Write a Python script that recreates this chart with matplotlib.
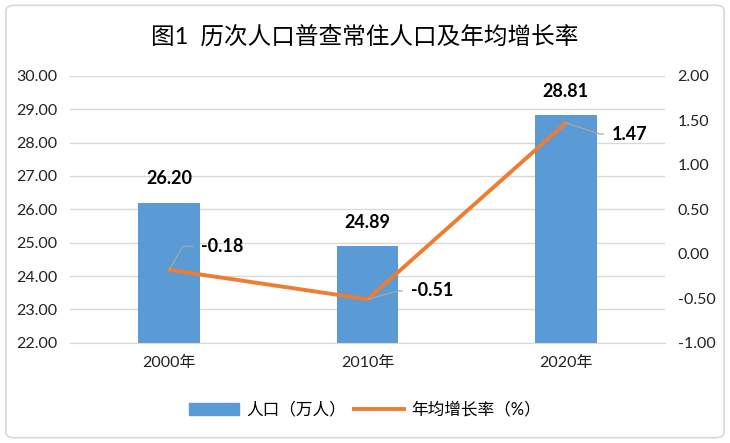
import matplotlib
matplotlib.use("Agg")
import matplotlib.pyplot as plt
from matplotlib.patches import FancyBboxPatch
from matplotlib.lines import Line2D
from matplotlib.patches import Patch

plt.rcParams["font.family"] = ["Lato", "Noto Sans CJK SC", "DejaVu Sans"]

years = ["2000年", "2010年", "2020年"]
population = [26.20, 24.89, 28.81]
growth = [-0.18, -0.51, 1.47]

BAR_C = "#5B9BD5"
LINE_C = "#ED7D31"
GRID_C = "#D9D9D9"
LEAD_C = "#A6A6A6"

fig = plt.figure(figsize=(7.3, 4.43), dpi=100)
ax = fig.add_axes([0.096, 0.226, 0.815, 0.603])
ax2 = ax.twinx()

x = range(len(years))
ax.bar(x, population, width=0.31, color=BAR_C, zorder=2)
ax.set_ylim(22, 30)
ax.set_yticks([22 + i for i in range(9)])
ax.set_yticklabels([f"{22 + i:.2f}" for i in range(9)])
ax.set_xlim(-0.5, 2.5)
ax.set_xticks(list(x))
ax.set_xticklabels(years)
ax.grid(axis="y", color=GRID_C, lw=1, zorder=0)
ax.set_axisbelow(True)

for i, v in enumerate(population):
    ax.annotate(f"{v:.2f}", (i, v), textcoords="offset points", xytext=(0, 11),
                ha="center", va="bottom", fontsize=13, fontweight="bold",
                color="#000000")

ax2.plot(list(x), growth, color=LINE_C, lw=2.8, solid_capstyle="round", zorder=3)
ax2.set_ylim(-1, 2)
ax2.set_yticks([-1 + 0.5 * i for i in range(7)])
ax2.set_yticklabels([f"{-1 + 0.5 * i:.2f}" for i in range(7)])

# label offsets (points) and leader angles
offsets = [(23, 17), (31, 6), (33, -8)]
angles = [60, 15, -18]
for i, v in enumerate(growth):
    ax2.annotate(f"{v:.2f}", (i, v), textcoords="offset points",
                 xytext=offsets[i], ha="left", va="center", fontsize=13,
                 fontweight="bold", color="#000000",
                 arrowprops=dict(arrowstyle="-", color=LEAD_C, lw=0.9,
                                 shrinkA=4, shrinkB=0, relpos=(0, 0.5),
                                 connectionstyle=f"angle,angleA=0,angleB={angles[i]},rad=0"))

for a in (ax, ax2):
    for s in a.spines.values():
        s.set_visible(False)
    a.tick_params(length=0, labelsize=11.5, colors="#222222")
ax.spines["bottom"].set_visible(True)
ax.spines["bottom"].set_color(GRID_C)
ax.tick_params(axis="x", pad=9)
ax.tick_params(axis="y", pad=9)
ax2.tick_params(axis="y", pad=9)

fig.text(0.5, 0.918, "图1  历次人口普查常住人口及年均增长率", ha="center", va="center",
         fontsize=17, color="#000000")

handles = [Patch(color=BAR_C), Line2D([0], [0], color=LINE_C, lw=2.8)]
fig.legend(handles, ["人口（万人）", "年均增长率（%）"], loc="center",
           bbox_to_anchor=(0.5, 0.075), ncol=2, frameon=False, fontsize=12,
           handlelength=3, handletextpad=0.4, columnspacing=0.5)

fig.patches.append(FancyBboxPatch((0.008, 0.012), 0.984, 0.976,
                                  boxstyle="round,pad=0,rounding_size=0.012",
                                  transform=fig.transFigure, fill=False,
                                  edgecolor="#D9D9D9", lw=1.2))

fig.savefig("out.png", dpi=100)
